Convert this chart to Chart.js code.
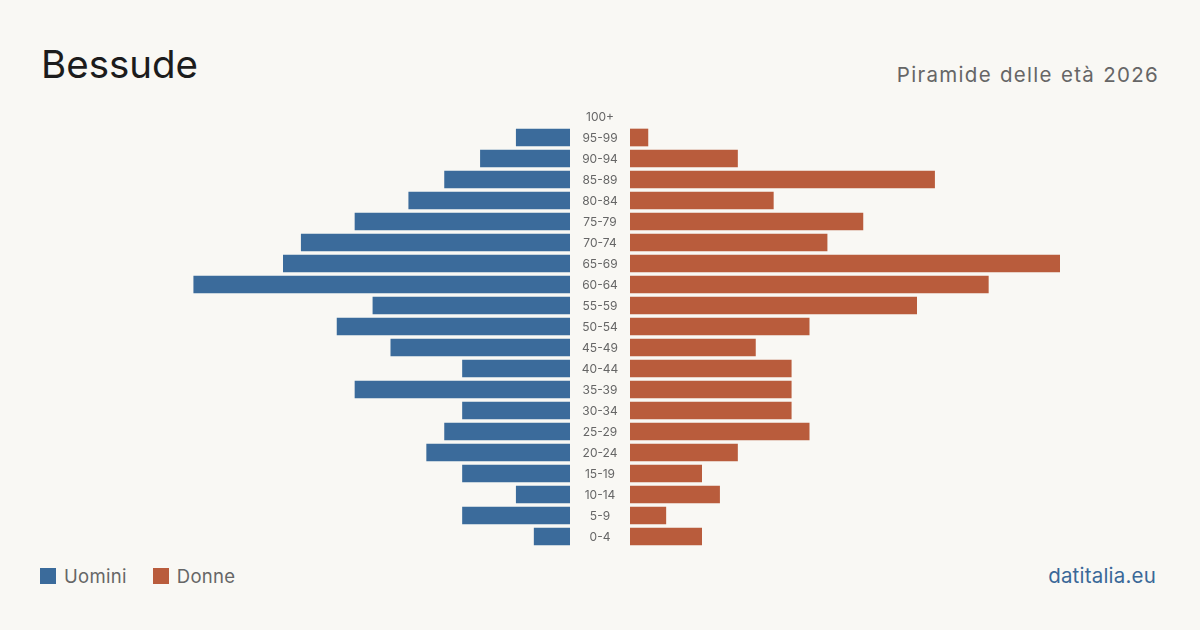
<!DOCTYPE html>
<html>
<head>
<meta charset="utf-8">
<script src="https://cdn.jsdelivr.net/npm/chart.js@4"></script>
<style>
  html, body { margin: 0; padding: 0; }
  body { width: 1200px; height: 630px; background: #f9f8f4; position: relative; overflow: hidden; font-family: Inter, "Noto Sans", sans-serif; }
  #title { position: absolute; left: 41px; top: 45px; font-size: 38.5px; color: #1c1c1c; line-height: 1; }
  #subtitle { position: absolute; right: 41px; top: 65px; font-size: 20.5px; letter-spacing: 1.3px; word-spacing: 1px; color: #666; line-height: 1; }
  #leftChart { position: absolute; left: 140px; top: 106px; }
  #rightChart { position: absolute; left: 630px; top: 106px; }
  #legend { position: absolute; left: 40px; top: 565px; font-size: 18.5px; letter-spacing: 0.3px; color: #666; display: flex; align-items: center; line-height: 22px; }
  #legend span.box { display: inline-block; width: 16px; height: 16px; margin-right: 8px; }
  #legend .item { display: flex; align-items: center; margin-right: 26px; }
  #source { position: absolute; right: 44px; top: 565px; font-size: 20.5px; letter-spacing: 0.2px; color: #3a6898; line-height: 22px; }
</style>
</head>
<body>
<div id="title">Bessude</div>
<div id="subtitle">Piramide delle età 2026</div>
<canvas id="leftChart" width="490" height="441"></canvas>
<canvas id="rightChart" width="430" height="441"></canvas>
<div id="legend">
  <div class="item"><span class="box" style="background:#3b6b9b"></span>Uomini</div>
  <div class="item"><span class="box" style="background:#b95c3c"></span>Donne</div>
</div>
<div id="source">datitalia.eu</div>
<script>
// age groups, top to bottom
const ageGroups = ["100+", "95-99", "90-94", "85-89", "80-84", "75-79", "70-74", "65-69", "60-64", "55-59",
  "50-54", "45-49", "40-44", "35-39", "30-34", "25-29", "20-24", "15-19", "10-14", "5-9", "0-4"];

const uomini = [0, 3, 5, 7, 9, 12, 15, 16, 21, 11, 13, 10, 6, 12, 6, 7, 8, 6, 3, 6, 2];
const donne  = [0, 1, 6, 17, 8, 13, 11, 24, 20, 16, 10, 7, 9, 9, 9, 10, 6, 4, 5, 2, 4];

const maxValue = 24;
const blue = "#3b6b9b";
const orange = "#b95c3c";

// hide empty bars (no hairline at zero)
function barColor(color) {
  return ctx => (ctx.raw ? color : "rgba(0,0,0,0)");
}

function baseOptions() {
  return {
    responsive: false,
    animation: false,
    indexAxis: 'y',
    layout: { padding: 0 },
    plugins: { legend: { display: false }, tooltip: { enabled: false } },
    scales: {
      x: { display: false, min: 0, max: maxValue },
      y: { display: false, grid: { display: false } }
    }
  };
}

// left side: men, reversed x, labels in the middle column
const leftOpts = baseOptions();
leftOpts.scales.x.reverse = true;
leftOpts.scales.y = {
  position: 'right',
  grid: { display: false, drawTicks: false },
  border: { display: false },
  ticks: {
    crossAlign: 'center',
    padding: 0,
    labelOffset: 1,
    color: "#666",
    font: { family: "Inter", size: 12 }
  },
  afterFit: function(scale) {
    scale.width = 60;
    scale.paddingTop = 0;
    scale.paddingBottom = 0;
  }
};

// center labels in the 60px column
const centerLabels = {
  id: 'centerLabels',
  afterLayout(chart) {
    const y = chart.scales.y;
    const widest = y._getLabelSizes().widest.width;
    y.options.ticks.padding = 30 - widest / 2;
  }
};

new Chart(document.getElementById("leftChart"), {
  type: 'bar',
  data: {
    labels: ageGroups,
    datasets: [{ label: "Uomini", data: uomini, backgroundColor: barColor(blue), barThickness: 17 }]
  },
  options: leftOpts,
  plugins: [centerLabels]
});

new Chart(document.getElementById("rightChart"), {
  type: 'bar',
  data: {
    labels: ageGroups,
    datasets: [{ label: "Donne", data: donne, backgroundColor: barColor(orange), barThickness: 17 }]
  },
  options: baseOptions()
});
</script>
</body>
</html>
